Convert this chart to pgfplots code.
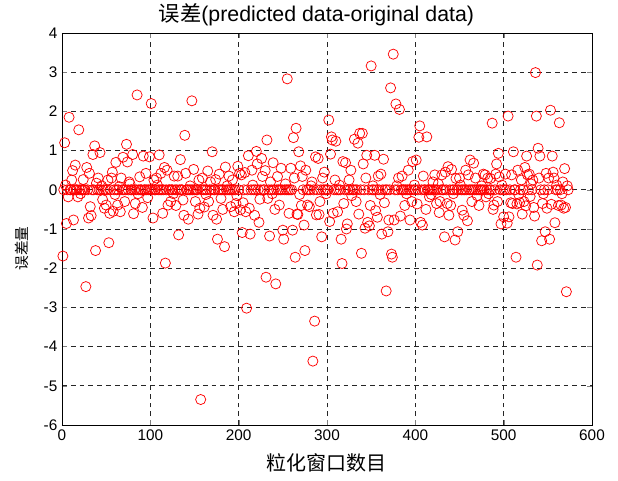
\documentclass[border=0pt]{standalone}
\usepackage{fontspec}
\setmainfont{Liberation Sans}
\newfontfamily\cjk{Noto Sans CJK SC}
\usepackage{pgfplots}
\pgfplotsset{compat=1.18}

\begin{document}
\begin{tikzpicture}
\useasboundingbox (-46.5pt,-41.25pt) rectangle (417pt,318.75pt);
\begin{axis}[
    at={(0pt,0pt)}, anchor=south west,
    scale only axis,
    width=397.5pt, height=294pt,
    xmin=0, xmax=600, ymin=-6, ymax=4,
    xtick={0,100,200,300,400,500,600},
    ytick={-6,-5,-4,-3,-2,-1,0,1,2,3,4},
    tick align=inside,
    major tick length=3.5pt,
    /pgf/number format/assume math mode=true,
    ticklabel style={font=\fontsize{11.5}{13}\selectfont},
    grid=major,
    grid style={black!85, line width=0.5pt, dash pattern=on 3.6pt off 3pt},
    axis line style={black, line width=0.6pt},
    title={{\cjk 误差}(predicted data-original data)},
    title style={font=\fontsize{16}{18}\selectfont, at={(axis description cs:0.48,1.025)}, anchor=center, yshift=0pt},
    xlabel={\cjk 粒化窗口数目},
    xlabel style={font=\fontsize{15}{17}\selectfont, at={(axis description cs:0.5,-0.097)}, anchor=center},
    ylabel={\cjk 误差量},
    ylabel style={font=\fontsize{11}{13}\selectfont, at={(axis description cs:-0.0755,0.45)}, anchor=center},
]
% nonzero errors
\addplot[only marks, mark=o, mark size=3.8pt, color=red, mark options={line width=0.55pt}] table {
x y
1 -1.69
3 1.20
4 0.12
5 -0.86
7 -0.18
8 1.85
11 0.25
12 0.49
13 -0.77
15 0.63
18 -0.18
19 1.53
21 -0.10
24 0.26
27 -2.47
28 0.57
30 -0.72
31 0.42
32 -0.43
33 -0.66
35 0.90
37 1.12
38 -1.55
39 0.17
41 0.30
43 0.95
45 0.10
46 -0.25
48 -0.47
50 -0.39
52 0.25
53 -1.35
54 -0.60
56 0.30
57 0.45
58 -0.55
60 -0.12
61 0.70
63 -0.39
65 0.08
66 -0.56
67 0.30
69 0.83
71 -0.30
73 1.16
74 0.71
76 0.20
77 0.15
80 0.90
81 -0.61
83 -0.35
85 2.42
86 -0.10
88 0.33
91 -0.45
92 0.86
95 0.42
97 -0.20
99 0.84
101 2.20
103 -0.72
104 0.25
107 0.30
108 0.12
110 0.89
112 0.42
114 -0.60
116 0.57
117 -1.87
119 0.50
120 -0.39
123 -0.30
126 -0.10
127 0.35
129 -0.40
131 0.35
132 -1.15
134 0.77
137 -0.26
138 -0.65
139 1.39
140 0.42
143 -0.75
145 0.10
147 2.27
149 0.52
151 -0.30
154 -0.62
155 0.25
156 -0.47
157 -5.35
159 0.30
161 -0.44
163 -0.12
165 0.48
166 -0.30
168 0.20
170 0.97
171 -0.65
174 0.26
175 -0.75
176 -1.26
178 0.40
180 -0.22
182 -0.50
184 -1.45
185 0.58
187 0.10
189 0.35
191 -0.43
193 0.25
195 -0.56
197 -0.35
198 -0.15
199 0.60
201 0.42
202 -0.51
203 0.38
204 -1.09
205 -0.33
207 0.44
208 -0.56
209 -3.02
211 0.87
212 -0.47
213 -1.13
215 0.50
216 0.12
218 -0.65
220 0.98
221 0.66
223 -0.83
224 -0.24
226 0.80
227 0.34
230 0.49
231 -2.23
232 1.27
233 -0.22
235 -1.18
236 0.20
238 -0.10
239 0.69
241 -0.50
242 -2.40
244 0.34
246 -0.39
248 0.55
250 -1.03
251 -1.26
253 0.15
255 2.83
257 -0.60
259 0.55
261 -1.03
262 1.33
263 0.30
264 -1.72
265 1.57
266 -0.62
267 -0.63
268 0.97
269 -0.12
270 0.61
271 -0.40
272 0.34
274 -0.90
275 -1.55
276 0.50
278 -0.39
280 -0.43
282 0.10
283 0.20
284 -4.37
286 -3.35
287 0.84
288 -0.64
290 0.80
291 -0.63
292 -0.30
294 -1.20
295 0.30
297 0.45
299 -0.10
302 1.78
303 -0.81
304 0.91
305 1.35
306 1.27
307 -0.60
309 0.25
310 1.24
312 -0.56
314 0.12
316 -1.26
317 -1.88
318 0.72
319 -0.35
321 0.69
322 -1.00
323 -0.87
325 0.25
327 0.50
328 -0.15
331 1.29
333 -0.30
335 1.19
336 -0.62
337 1.44
339 -1.62
340 1.44
341 0.66
343 -0.98
344 0.30
345 0.88
346 -0.83
348 -0.92
349 -0.40
350 3.16
352 0.10
354 0.88
355 -0.53
357 -0.70
358 0.35
360 -0.12
361 0.40
362 -1.13
364 0.78
365 -0.33
367 -2.58
369 -1.07
370 -0.77
372 2.60
373 -1.64
374 -1.72
375 3.46
376 -0.77
378 2.19
379 0.10
381 0.30
382 2.05
383 -0.67
385 0.35
388 -0.40
390 -0.10
392 0.50
394 -0.77
396 -0.30
397 0.72
399 0.12
401 0.76
402 -0.36
404 1.34
405 1.63
406 -0.83
408 -0.90
409 0.35
412 -0.50
413 1.35
416 -0.18
418 -0.12
420 0.20
422 0.38
424 -0.35
426 0.15
427 -0.58
428 -0.30
430 0.38
433 -1.20
434 0.45
436 -0.35
437 0.59
438 -0.65
440 -0.40
441 0.52
443 -0.10
445 -1.28
446 0.29
448 -1.07
450 0.30
451 0.12
453 -0.52
455 -0.65
457 0.50
459 -0.79
460 0.38
462 0.76
464 -0.30
466 0.68
468 0.30
470 -0.15
472 -0.40
475 0.10
477 0.40
479 0.38
480 -0.18
482 0.30
483 -0.10
485 0.29
487 1.70
488 -0.50
489 -0.39
491 0.40
492 0.66
493 -0.30
494 0.93
495 0.33
497 -0.87
498 0.12
500 -0.69
502 0.40
504 -0.85
505 1.88
506 -0.69
508 -0.33
509 0.38
510 -0.35
511 0.97
514 -1.72
515 -0.36
516 0.50
517 -0.12
518 -0.33
520 0.25
521 -0.62
523 -0.30
524 0.57
525 -0.41
526 0.86
527 0.38
529 0.40
530 -0.17
531 0.15
533 0.25
534 -0.45
535 -0.67
536 2.99
537 1.88
538 -1.92
539 1.06
540 0.30
541 0.86
543 -1.30
544 -0.35
545 -0.10
547 -1.07
548 0.42
549 -0.47
551 0.30
552 -1.26
553 2.03
554 -0.37
555 0.86
556 0.45
557 0.30
558 -0.84
560 0.12
562 -0.40
563 1.71
565 -0.39
566 -0.10
567 0.20
568 -0.47
569 0.54
570 -0.45
571 -2.60
572 0.10
};
% windows with zero error
\addplot[only marks, mark=o, mark size=3.8pt, color=red, mark options={line width=0.55pt}] coordinates {
(2,0)(6,0)(9,0)(10,0)(14,0)(16,0)(17,0)(20,0)(22,0)(23,0)(25,0)(26,0)(29,0)(34,0)
(36,0)(40,0)(42,0)(44,0)(47,0)(49,0)(51,0)(55,0)(59,0)(62,0)(64,0)(68,0)(70,0)(72,0)
(75,0)(78,0)(79,0)(82,0)(84,0)(87,0)(89,0)(90,0)(93,0)(94,0)(96,0)(98,0)(100,0)
(102,0)(105,0)(106,0)(109,0)(111,0)(113,0)(115,0)(118,0)(121,0)(122,0)(124,0)(125,0)
(128,0)(130,0)(133,0)(135,0)(136,0)(141,0)(142,0)(144,0)(146,0)(148,0)(150,0)(152,0)
(153,0)(158,0)(160,0)(162,0)(164,0)(167,0)(169,0)(172,0)(173,0)(177,0)(179,0)(181,0)
(183,0)(186,0)(188,0)(190,0)(192,0)(194,0)(196,0)(200,0)
(206,0)(210,0)(214,0)(217,0)(219,0)(222,0)(225,0)(228,0)(229,0)(234,0)(237,0)(240,0)
(243,0)(245,0)(247,0)(249,0)(252,0)(254,0)(256,0)(258,0)(260,0)(273,0)(277,0)(279,0)
(281,0)(285,0)(289,0)(293,0)(296,0)(298,0)(300,0)
(301,0)(308,0)(311,0)(313,0)(315,0)(320,0)(324,0)(326,0)(329,0)(330,0)(332,0)(334,0)
(338,0)(342,0)(347,0)(351,0)(353,0)(356,0)(359,0)(363,0)(366,0)(368,0)(371,0)(377,0)
(380,0)(384,0)(386,0)(387,0)(389,0)(391,0)(393,0)(395,0)(398,0)(400,0)
(403,0)(407,0)(410,0)(411,0)(414,0)(415,0)(417,0)(419,0)(421,0)(423,0)(425,0)(429,0)
(431,0)(432,0)(435,0)(439,0)(442,0)(444,0)(447,0)(449,0)(452,0)(454,0)(456,0)(458,0)
(461,0)(463,0)(465,0)(467,0)(469,0)(471,0)(473,0)(474,0)(476,0)(478,0)(481,0)(484,0)
(486,0)(490,0)(496,0)(499,0)
(501,0)(503,0)(507,0)(512,0)(513,0)(519,0)(522,0)(528,0)(532,0)(542,0)(546,0)(550,0)
(559,0)(561,0)(564,0)(573,0)
};
\end{axis}
\end{tikzpicture}
\end{document}
